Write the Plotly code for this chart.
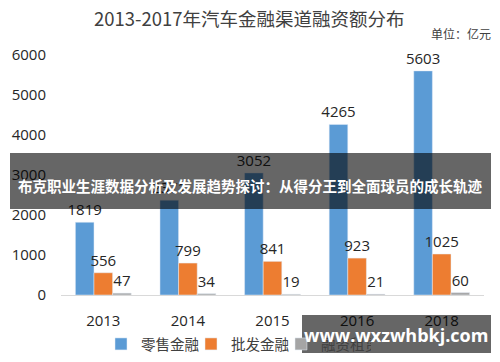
import plotly.graph_objects as go

categories = ["2013", "2014", "2015", "2016", "2018"]
retail = [1819, 2371, 3052, 4265, 5603]
wholesale = [556, 799, 841, 923, 1025]
leasing = [47, 34, 19, 21, 60]
series_names = ["零售金融", "批发金融", "融资租赁"]
colors = ["#5B9BD5", "#ED7D31", "#A5A5A5"]
title_text = "2013-2017年汽车金融渠道融资额分布"
unit_text = "单位：亿元"
banner_text = "布克职业生涯数据分析及发展趋势探讨：从得分王到全面球员的成长轨迹"
watermark_text = "www.wxzwhbkj.com"

W, H = 500, 362
L, R, T, B = 61, 16, 55, 67
PW, PH = W - L - R, H - T - B

def px(x):
    return (x - L) / PW

def py(y):
    return (H - B - y) / PH

FONT = "Open Sans, Noto Sans CJK SC, sans-serif"
CJK = "Noto Sans CJK SC, sans-serif"

fig = go.Figure()
for name, vals, col in zip(series_names, [retail, wholesale, leasing], colors):
    fig.add_trace(go.Bar(
        x=categories, y=vals, name=name, marker_color=col,
        text=[str(v) for v in vals], textposition="outside",
        textfont=dict(size=15, color="#262626", family=FONT),
        constraintext="none", cliponaxis=False,
    ))

fig.update_layout(
    width=W, height=H,
    margin=dict(l=L, r=R, t=T, b=B, autoexpand=False),
    paper_bgcolor="white", plot_bgcolor="white",
    barmode="group", bargap=0.34, bargroupgap=0,
    font=dict(family=FONT, color="#404040"),
    showlegend=True,
    legend=dict(orientation="h", x=px(101), xanchor="left", y=py(344), yanchor="middle",
                font=dict(size=14.5, family=CJK, color="#404040"),
                itemwidth=30, entrywidth=45, entrywidthmode="pixels",
                traceorder="normal", bgcolor="rgba(0,0,0,0)"),
    xaxis=dict(showline=True, linecolor="#D9D9D9", linewidth=1, ticks="",
               tickfont=dict(size=15, color="#262626"), ticklabelstandoff=12,
               showgrid=False, zeroline=False, automargin=False),
    yaxis=dict(range=[0, 6000], tickvals=[0, 1000, 2000, 3000, 4000, 5000, 6000],
               showgrid=False, zeroline=False, showline=False, ticks="",
               tickfont=dict(size=15, color="#262626"), ticklabelstandoff=14, automargin=False),
)

annotations = [
    dict(text=title_text, x=px(249), y=py(18), xref="paper", yref="paper",
         showarrow=False, font=dict(size=18.5, family=CJK, color="#404040"),
         xanchor="center", yanchor="middle"),
    dict(text=unit_text, x=px(493), y=py(33), xref="paper", yref="paper",
         showarrow=False, font=dict(size=12, family=CJK, color="#404040"),
         xanchor="right", yanchor="middle"),
    dict(text="<b>" + banner_text + "</b>", x=px(250), y=py(185), xref="paper", yref="paper",
         showarrow=False, font=dict(size=14.5, family=CJK, color="white"),
         xanchor="center", yanchor="middle"),
    dict(text="<b>" + watermark_text + "</b>", x=px(396), y=py(335), xref="paper", yref="paper",
         showarrow=False, font=dict(size=18, family=FONT, color="white"),
         xanchor="center", yanchor="middle"),
]
fig.update_layout(annotations=annotations)

fig.update_layout(shapes=[
    dict(type="rect", xref="paper", yref="paper", x0=px(10), x1=px(491), y0=py(153), y1=py(209),
         fillcolor="rgba(0,0,0,0.6)", line=dict(width=0), layer="above"),
    dict(type="rect", xref="paper", yref="paper", x0=px(302), x1=px(491), y0=py(315), y1=py(353),
         fillcolor="rgba(0,0,0,0.6)", line=dict(width=0), layer="above"),
])

fig.write_html("out.html", config={"displayModeBar": False},
               post_script="document.body.style.margin='0';document.body.style.overflow='hidden';")
